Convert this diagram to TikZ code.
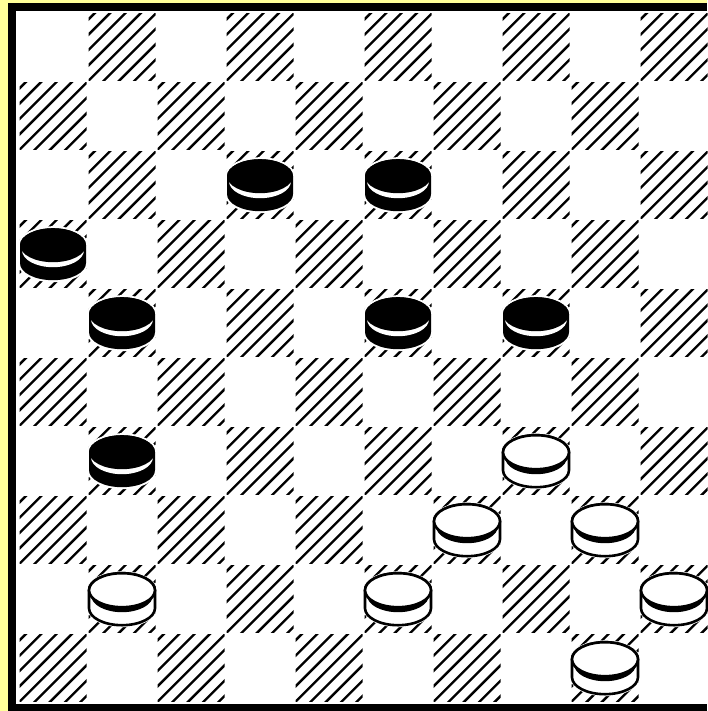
\documentclass[tikz,border=0pt]{standalone}
\usepackage{tikz}
\definecolor{frameyellow}{HTML}{FFFF99}

% outline of one draughts man, top ellipse plus side
\newcommand\manbody{(-33,-9) arc[start angle=180,end angle=0,x radius=33pt,y radius=17pt]
  -- (33,9) arc[start angle=0,end angle=-180,x radius=33pt,y radius=17pt] -- cycle}

\begin{document}
\begin{tikzpicture}[x=1pt,y=-1pt,
  hatch/.style={line width=2.4pt},
  halo/.style={draw=white,line width=4pt},
  rim/.style={draw=black,line width=2.6pt},
  blackman/.pic={
    \path[halo] \manbody;
    \fill[black] \manbody;
    \fill[white] (0,-4) ellipse[x radius=31pt,y radius=17pt];
    \fill[black] (0,-9) ellipse[x radius=33pt,y radius=17pt];
  },
  whiteman/.pic={
    \path[halo] \manbody;
    \path[fill=white,rim] \manbody;
    \fill[black] (0,-4) ellipse[x radius=31pt,y radius=17pt];
    \path[fill=white,rim] (0,-9) ellipse[x radius=33pt,y radius=17pt];
  }
]
\useasboundingbox (0,0) rectangle (707,711);
\fill[frameyellow] (0,0) rectangle (707,711);
\fill[black] (8,3) rectangle (707,711);
\fill[white] (16,11) rectangle (707,704);

% dark squares
\foreach \r in {0,...,9}
  \foreach \k in {0,...,4}{
    \pgfmathsetmacro\cx{53+69*(2*\k+mod(\r+1,2))}
    \pgfmathsetmacro\cy{47.2+69*\r}
    \begin{scope}
      \clip (\cx-33.5,\cy-33.5) rectangle (\cx+33.5,\cy+33.5);
      \foreach \j in {-4,...,4}
        \draw[hatch] ({\cx+\j*7.667-45},{\cy+\j*7.667+45}) -- ++(90,-90);
    \end{scope}
  }

% men
\foreach \c/\r in {3/2,5/2,0/3,1/4,5/4,7/4,1/6}
  \pic at ({53+69*\c},{47.2+69*\r}) {blackman};
\foreach \c/\r in {7/6,6/7,8/7,1/8,5/8,9/8,8/9}
  \pic at ({53+69*\c},{47.2+69*\r}) {whiteman};
\end{tikzpicture}
\end{document}
